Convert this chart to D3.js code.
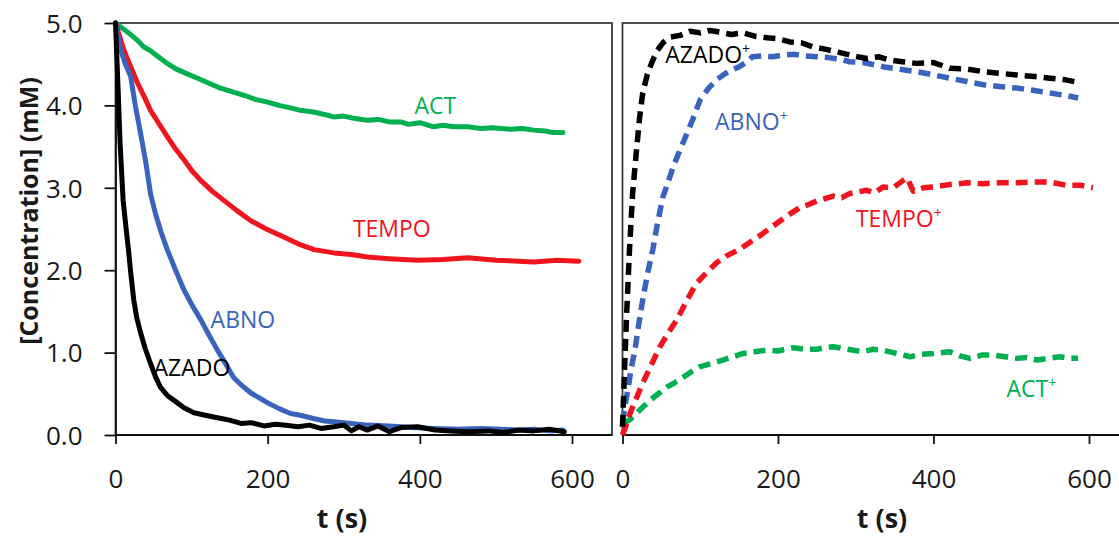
<!DOCTYPE html>
<html>
<head>
<meta charset="utf-8">
<script src="https://cdn.jsdelivr.net/npm/d3@7"></script>
<style>
  html, body { margin: 0; padding: 0; background: #fff; }
  svg { display: block; font-family: "Open Sans", "Liberation Sans", sans-serif; }
</style>
</head>
<body>
<svg id="chart" width="1119" height="536"></svg>
<script>
// ---------------- DATA ----------------
const xTickValues = [0, 200, 400, 600];
const yTickValues = [0, 1, 2, 3, 4, 5];

// Left panel: nitroxyl radicals (solid lines)
const tAct = [0,10,20,30,37,45,55,68,80,95,108,120,135,155,170,185,200,215,230,243,260,275,287,300,315,331,345,360,375,385,400,418,430,445,463,480,495,507,520,535,550,565,575,588];
const cAct = [5.0,4.93,4.86,4.78,4.71,4.67,4.6,4.51,4.44,4.38,4.33,4.28,4.22,4.16,4.12,4.07,4.04,4.0,3.97,3.94,3.92,3.89,3.86,3.87,3.84,3.82,3.83,3.80,3.80,3.77,3.79,3.74,3.76,3.74,3.74,3.72,3.73,3.72,3.71,3.72,3.70,3.69,3.67,3.67];

const tTempo = [0,5,10,15,20,29,38,46,57,68,79,90,101,112,127,142,160,178,198,217,240,261,287,310,331,360,397,430,463,500,530,550,580,609];
const cTempo = [5.0,4.85,4.7,4.58,4.47,4.27,4.1,3.94,3.78,3.62,3.47,3.34,3.2,3.09,2.96,2.85,2.72,2.6,2.5,2.42,2.32,2.25,2.21,2.19,2.16,2.14,2.12,2.13,2.15,2.12,2.11,2.10,2.12,2.11];

const tAbno = [0,3,7,13,20,26,33,40,46,53,60,68,79,90,101,112,123,134,145,155,166,178,189,200,215,230,243,260,275,287,310,331,360,390,418,450,480,507,530,550,570,588];
const cAbno = [5.0,4.85,4.67,4.5,4.35,4.0,3.66,3.3,2.93,2.67,2.46,2.25,2.0,1.76,1.57,1.40,1.21,1.03,0.86,0.70,0.60,0.51,0.45,0.39,0.32,0.26,0.24,0.2,0.17,0.16,0.14,0.12,0.11,0.09,0.08,0.07,0.08,0.07,0.06,0.07,0.05,0.06];

const tAzado = [0,3,6,10,14,17,20,24,28,33,39,46,52,59,68,77,90,103,118,134,150,165,178,195,210,221,240,255,270,287,300,310,320,331,345,360,375,397,420,440,463,490,510,530,550,570,590];
const cAzado = [5.0,4.3,3.55,2.85,2.5,2.25,1.97,1.64,1.42,1.24,1.05,0.87,0.72,0.58,0.48,0.42,0.33,0.27,0.24,0.21,0.18,0.14,0.15,0.11,0.13,0.12,0.10,0.12,0.08,0.10,0.12,0.05,0.10,0.06,0.11,0.04,0.09,0.10,0.06,0.05,0.04,0.05,0.03,0.06,0.05,0.07,0.04];

// Right panel: oxoammonium cations (dashed lines)
const tAzadoP = [0,2,5,9,13,18,22,26,32,39,45,52,62,74,87,100,112,125,140,155,170,186,200,215,230,245,262,280,297,314,330,344,360,378,400,421,443,464,485,507,530,550,570,586];
const cAzadoP = [0.1,0.63,1.4,2.25,2.93,3.46,3.85,4.15,4.38,4.55,4.67,4.76,4.83,4.85,4.9,4.88,4.91,4.89,4.86,4.88,4.84,4.82,4.81,4.77,4.76,4.71,4.68,4.64,4.6,4.57,4.59,4.55,4.53,4.51,4.52,4.45,4.44,4.41,4.39,4.37,4.35,4.33,4.31,4.28];

const tAbnoP = [0,3,7,11,16,21,26,32,39,45,52,58,65,74,83,92,100,110,121,131,141,150,159,167,180,193,206,220,235,250,265,280,292,310,335,355,378,400,421,443,464,485,507,530,550,570,586];
const cAbnoP = [0.15,0.35,0.55,0.8,1.03,1.35,1.64,1.95,2.25,2.57,2.89,3.05,3.25,3.46,3.66,3.87,4.07,4.2,4.31,4.38,4.43,4.47,4.52,4.59,4.6,4.59,4.61,4.62,4.6,4.59,4.58,4.56,4.53,4.52,4.47,4.44,4.41,4.37,4.33,4.29,4.25,4.23,4.21,4.18,4.15,4.12,4.09];

const tTempoP = [0,5,10,18,26,37,48,59,70,82,95,108,121,135,150,164,177,190,203,215,228,240,250,271,282,292,303,314,325,335,348,361,366,374,387,400,421,443,464,485,507,528,550,571,590,605];
const cTempoP = [0.0,0.13,0.27,0.45,0.63,0.85,1.07,1.24,1.4,1.62,1.84,1.97,2.09,2.18,2.25,2.34,2.42,2.51,2.6,2.68,2.76,2.8,2.84,2.9,2.88,2.93,2.95,2.97,2.94,3.01,3.0,3.09,3.12,2.96,3.0,3.01,3.04,3.06,3.05,3.06,3.06,3.07,3.07,3.03,3.03,3.0];

const tActP = [0,7,14,24,35,46,57,68,78,89,100,115,129,142,155,170,186,200,219,235,250,260,271,290,309,322,335,352,370,385,400,421,434,447,462,477,492,507,520,533,548,562,575,586];
const cActP = [0.15,0.17,0.22,0.32,0.42,0.5,0.58,0.64,0.7,0.77,0.83,0.87,0.91,0.95,0.99,1.01,1.03,1.02,1.06,1.04,1.04,1.06,1.07,1.04,1.01,1.04,1.03,0.99,0.95,0.98,0.99,1.01,0.96,0.93,0.97,0.97,0.95,0.93,0.94,0.91,0.93,0.95,0.93,0.93];

const colors = { ACT: "#00b050", TEMPO: "#f0141e", ABNO: "#3a63bd", AZADO: "#000000" };

// ---------------- CHART ----------------
const svg = d3.select("#chart");
const zip = (ts, cs) => ts.map((t, i) => ({ t: t, c: cs[i] }));

const leftSeries = [
  { name: "ACT", data: zip(tAct, cAct) },
  { name: "TEMPO", data: zip(tTempo, cTempo) },
  { name: "ABNO", data: zip(tAbno, cAbno) },
  { name: "AZADO", data: zip(tAzado, cAzado) }
];
const rightSeries = [
  { name: "ACT", data: zip(tActP, cActP) },
  { name: "TEMPO", data: zip(tTempoP, cTempoP) },
  { name: "ABNO", data: zip(tAbnoP, cAbnoP) },
  { name: "AZADO", data: zip(tAzadoP, cAzadoP) }
];

const yTop = 23, yBottom = 435;
const y = d3.scaleLinear().domain([0, 5]).range([yBottom, yTop]);
const xL = d3.scaleLinear().domain([0, 600]).range([115.5, 572]);
const xR = d3.scaleLinear().domain([0, 600]).range([622.5, 1089]);

// panel frames
svg.append("rect").attr("x", 115.5).attr("y", yTop).attr("width", 612 - 115.5).attr("height", yBottom - yTop)
  .attr("fill", "none").attr("stroke", "#3a3a3a").attr("stroke-width", 1.8);
svg.append("rect").attr("x", 622.5).attr("y", yTop).attr("width", 520).attr("height", yBottom - yTop)
  .attr("fill", "none").attr("stroke", "#3a3a3a").attr("stroke-width", 1.8);

function styleAxis(g) {
  g.selectAll("path.domain").attr("stroke", "#111").attr("stroke-width", 1.8);
  g.selectAll(".tick line").attr("stroke", "#111").attr("stroke-width", 1.8);
  g.selectAll(".tick text").attr("fill", "#1a1a1a").style("font-size", "26px")
    .style("font-family", "'Open Sans', sans-serif");
}

// left y axis
svg.append("g").attr("transform", `translate(${xL(0)},0)`)
  .call(d3.axisLeft(y).tickValues(yTickValues).tickFormat(d3.format(".1f")).tickSize(11).tickSizeOuter(0).tickPadding(22))
  .call(styleAxis)
  .call(g => g.selectAll(".tick text").attr("dy", "0.36em"));

// left x axis
svg.append("g").attr("transform", `translate(0,${yBottom})`)
  .call(d3.axisBottom(xL).tickValues(xTickValues).tickFormat(d3.format("d")).tickSize(9).tickSizeOuter(0).tickPadding(26))
  .call(styleAxis)
  .call(g => g.select("path.domain").attr("d", `M${xL(0)},0H612`));

// right x axis
svg.append("g").attr("transform", `translate(0,${yBottom})`)
  .call(d3.axisBottom(xR).tickValues(xTickValues).tickFormat(d3.format("d")).tickSize(9).tickSizeOuter(0).tickPadding(26))
  .call(styleAxis)
  .call(g => g.select("path.domain").attr("d", `M${xR(0)},0H1119`));

// lines
const lineL = d3.line().x(d => xL(d.t)).y(d => y(d.c));
const lineR = d3.line().x(d => xR(d.t)).y(d => y(d.c));

svg.append("g").selectAll("path").data(leftSeries).join("path")
  .attr("d", d => lineL(d.data))
  .attr("fill", "none").attr("stroke", d => colors[d.name])
  .attr("stroke-width", 5).attr("stroke-linejoin", "round").attr("stroke-linecap", "round");

svg.append("g").selectAll("path").data(rightSeries).join("path")
  .attr("d", d => lineR(d.data))
  .attr("fill", "none").attr("stroke", d => colors[d.name])
  .attr("stroke-width", 5.5).attr("stroke-linejoin", "round")
  .attr("stroke-dasharray", "12,7");

// series labels
const leftLabels = [
  { name: "ACT", t: 393, c: 3.9 },
  { name: "TEMPO", t: 312, c: 2.4 },
  { name: "ABNO", t: 125, c: 1.3 },
  { name: "AZADO", t: 50, c: 0.72 }
];
const rightLabels = [
  { name: "AZADO", t: 55, c: 4.52 },
  { name: "ABNO", t: 119, c: 3.7 },
  { name: "TEMPO", t: 300, c: 2.52 },
  { name: "ACT", t: 494, c: 0.46 }
];

leftLabels.forEach(l => {
  svg.append("text").attr("x", xL(l.t)).attr("y", y(l.c))
    .attr("fill", colors[l.name]).style("font-size", "23px").text(l.name);
});
rightLabels.forEach(l => {
  const tx = svg.append("text").attr("x", xR(l.t)).attr("y", y(l.c))
    .attr("fill", colors[l.name]).style("font-size", "23px");
  tx.append("tspan").text(l.name);
  tx.append("tspan").attr("dy", -9).style("font-size", "14px").text("+");
});

// axis titles
svg.append("text").attr("transform", `translate(38,${(yTop + yBottom) / 2 - 18}) rotate(-90)`)
  .attr("text-anchor", "middle").style("font-size", "25px").style("font-weight", "bold")
  .attr("fill", "#1a1a1a").text("[Concentration] (mM)");
svg.append("text").attr("x", 342).attr("y", 528).attr("text-anchor", "middle")
  .style("font-size", "27px").style("font-weight", "bold").attr("fill", "#1a1a1a").text("t (s)");
svg.append("text").attr("x", 882).attr("y", 528).attr("text-anchor", "middle")
  .style("font-size", "27px").style("font-weight", "bold").attr("fill", "#1a1a1a").text("t (s)");
</script>
</body>
</html>
